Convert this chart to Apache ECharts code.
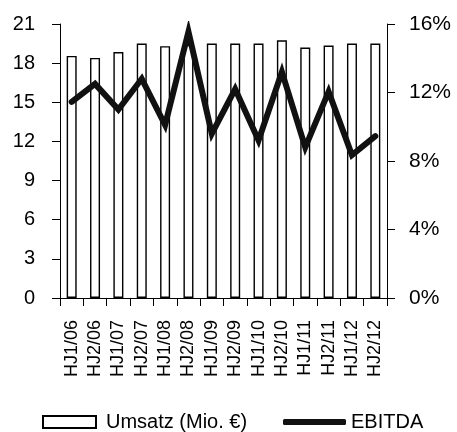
<!DOCTYPE html>
<html>
<head>
<meta charset="utf-8">
<script src="https://cdn.jsdelivr.net/npm/echarts@6/dist/echarts.min.js"></script>
<style>html,body{margin:0;padding:0;background:#fff;}#c{width:457px;height:432px;}</style>
</head>
<body>
<div id="c"></div>
<script>
var categories = ['HJ1/06','HJ2/06','HJ1/07','HJ2/07','HJ1/08','HJ2/08','HJ1/09','HJ2/09','HJ1/10','HJ2/10','HJ1/11','HJ2/11','HJ1/12','HJ2/12'];
var umsatz = [18.55, 18.4, 18.85, 19.5, 19.3, 19.4, 19.5, 19.5, 19.5, 19.75, 19.2, 19.35, 19.5, 19.5];
var ebitda = [11.45, 12.5, 11.0, 12.8, 10.1, 15.55, 9.6, 12.2, 9.2, 13.2, 8.8, 12.05, 8.35, 9.45];
var leftTicks = {min: 0, max: 21, interval: 3};
var rightTicks = {min: 0, max: 16, interval: 4};

var font = '"Liberation Sans", Arial, sans-serif';
var chart = echarts.init(document.getElementById('c'), null, {renderer: 'canvas'});
chart.setOption({
  animation: false,
  backgroundColor: '#fff',
  grid: {left: 60, right: 70, top: 24, bottom: 134, containLabel: false},
  legend: [
    {data: [{name: 'Umsatz (Mio. €)', icon: 'rect'}], left: 42, top: 412, padding: 0, itemWidth: 53, itemHeight: 12,
     textStyle: {fontFamily: font, fontSize: 20, color: '#000', padding: [0, 0, 0, 5]}},
    {data: [{name: 'EBITDA', icon: 'roundRect'}], left: 283, top: 412, padding: 0, itemWidth: 63, itemHeight: 6,
     itemStyle: {color: '#111', borderWidth: 0},
     textStyle: {fontFamily: font, fontSize: 20, color: '#000'}}
  ],
  xAxis: {
    type: 'category', data: categories, boundaryGap: true,
    axisLine: {lineStyle: {color: '#000', width: 1}},
    axisTick: {show: true, length: 8, alignWithLabel: false, lineStyle: {color: '#000'}},
    axisLabel: {rotate: 90, margin: 22, fontFamily: font, fontSize: 18, color: '#000', interval: 0}
  },
  yAxis: [
    {type: 'value', min: leftTicks.min, max: leftTicks.max, interval: leftTicks.interval,
     axisLine: {show: true, lineStyle: {color: '#000'}},
     axisTick: {show: true, length: 8, lineStyle: {color: '#000'}},
     splitLine: {show: false},
     axisLabel: {margin: 25, fontFamily: font, fontSize: 20, color: '#000'}},
    {type: 'value', position: 'right', min: rightTicks.min, max: rightTicks.max, interval: rightTicks.interval,
     axisLine: {show: true, lineStyle: {color: '#000'}},
     axisTick: {show: true, length: 8, lineStyle: {color: '#000'}},
     splitLine: {show: false},
     axisLabel: {margin: 22, fontFamily: font, fontSize: 21, color: '#000', formatter: function(v){return v + '%';}}}
  ],
  series: [
    {name: 'Umsatz (Mio. €)', type: 'bar', data: umsatz, barWidth: 10, yAxisIndex: 0,
     itemStyle: {color: '#fff', borderColor: '#000', borderWidth: 1.4}},
    {name: 'EBITDA', type: 'line', data: ebitda, yAxisIndex: 1, symbol: 'none', showSymbol: false,
     lineStyle: {color: '#111', width: 6, join: 'miter', cap: 'round'}, itemStyle: {color: '#111'}}
  ]
});
</script>
</body>
</html>
